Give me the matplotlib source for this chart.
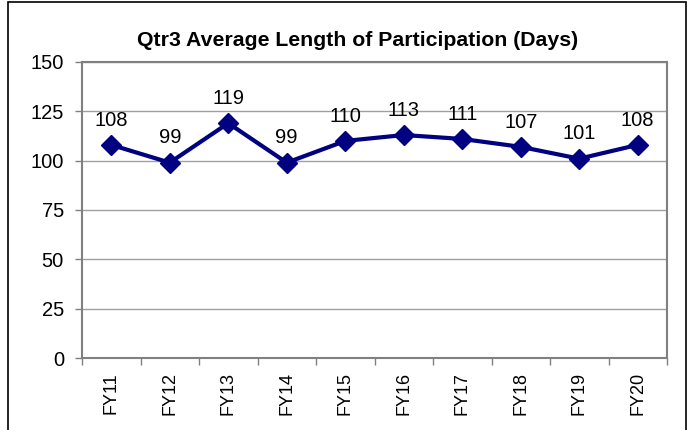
import matplotlib
matplotlib.use("Agg")
import matplotlib.pyplot as plt
from matplotlib.patches import Rectangle

categories = ["FY11", "FY12", "FY13", "FY14", "FY15", "FY16", "FY17", "FY18", "FY19", "FY20"]
values = [108, 99, 119, 99, 110, 113, 111, 107, 101, 108]
yticks = [0, 25, 50, 75, 100, 125, 150]

fig = plt.figure(figsize=(6.92, 4.30), dpi=100)
ax = fig.add_axes([82/692, 72/430, (667-82)/692, (358-62)/430])

x = list(range(len(categories)))
ax.plot(x, values, color="#000080", lw=3, marker="D", markersize=10.5, zorder=3, clip_on=False)
for xi, v in zip(x, values):
    ax.annotate(str(v), (xi, v), xytext=(0, 11), textcoords="offset points",
                ha="center", va="bottom", fontsize=14.5, family="Liberation Sans")

ax.set_xlim(-0.5, len(categories) - 0.5)
ax.set_ylim(0, 150)
ax.set_yticks(yticks)
ax.set_yticklabels([str(t) for t in yticks], fontsize=14.5, family="Liberation Sans")
ax.set_xticks(x)
ax.set_xticklabels(categories, rotation=90, fontsize=13, family="Liberation Sans")
ax.set_xticks([i + 0.5 for i in range(-1, len(categories))], minor=True)
ax.tick_params(axis="x", which="major", length=0, pad=10)
ax.tick_params(axis="x", which="minor", length=5, color="#808080", width=1)
ax.tick_params(axis="y", length=5, color="#808080", width=1, pad=8)
ax.grid(axis="y", color="#a0a0a0", lw=1)
ax.set_axisbelow(True)
for s in ax.spines.values():
    s.set_color("#808080")
    s.set_linewidth(1.5)

fig.text(358/692, 1 - 40/430, "Qtr3 Average Length of Participation (Days)",
         ha="center", va="center", fontsize=15.3, fontweight="bold", family="Liberation Sans")

fig.patches.append(Rectangle((8/692, -0.1), (686-8)/692, 1.1 - 2/430, transform=fig.transFigure,
                             fill=False, edgecolor="black", lw=1.2))

fig.savefig("out.png", dpi=100)
